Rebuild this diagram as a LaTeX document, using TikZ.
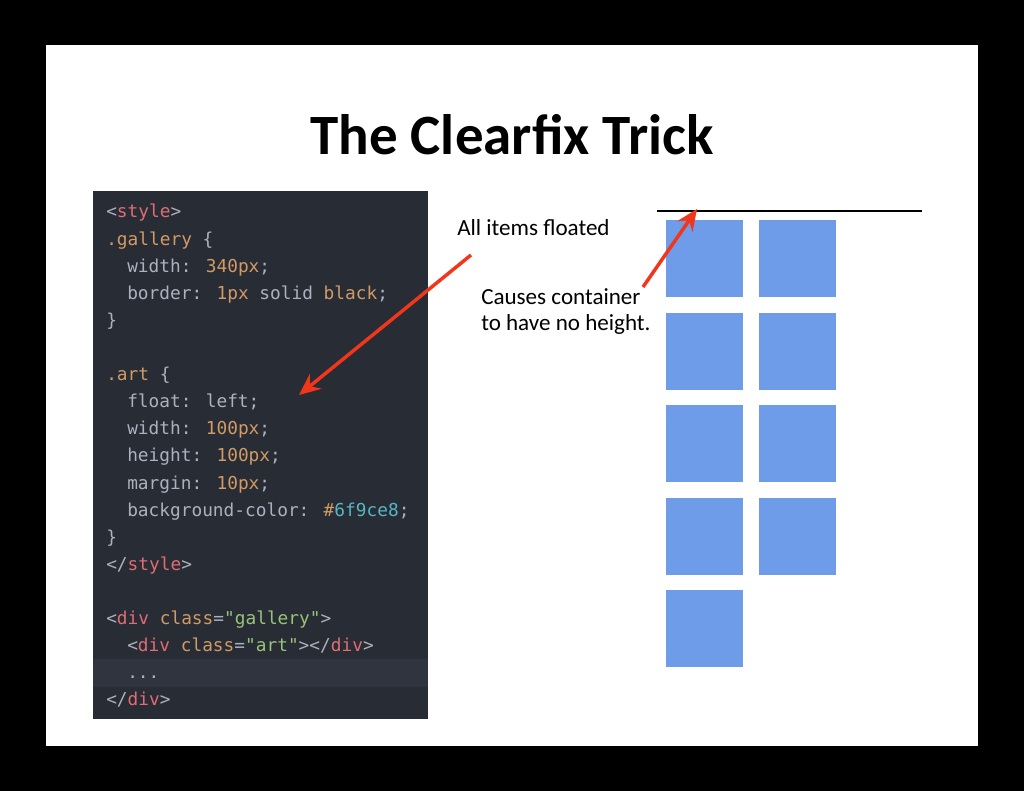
\documentclass[tikz,border=0pt]{standalone}
\usepackage{fontspec}
\setmainfont{Carlito}
\newfontfamily\codefont{DejaVu Sans Mono}
\usepackage{tikz}
\usetikzlibrary{arrows.meta}

\definecolor{editorbg}{HTML}{282C34}
\definecolor{editorhl}{HTML}{2F343F}
\definecolor{codegrey}{HTML}{ABB2BF}
\definecolor{codered}{HTML}{E06C75}
\definecolor{codeorange}{HTML}{D19A66}
\definecolor{codegreen}{HTML}{98C379}
\definecolor{codecyan}{HTML}{56B6C2}
\definecolor{artblue}{HTML}{6F9CE8}
\definecolor{arrowred}{HTML}{F2361C}

\newcommand{\tagc}[1]{\textcolor{codered}{#1}}
\newcommand{\valc}[1]{\textcolor{codeorange}{#1}}
\newcommand{\strc}[1]{\textcolor{codegreen}{#1}}
\newcommand{\hexc}[1]{\textcolor{codecyan}{#1}}

\tikzset{
  codeline/.style={anchor=base west, inner sep=0pt, text=codegrey,
    font=\codefont\fontsize{13.35}{15}\selectfont},
  artbox/.style={fill=artblue, minimum size=57.75pt, inner sep=0pt, anchor=north west},
  note/.style={anchor=base west, inner sep=0pt, font=\fontsize{17.3}{19.5}\selectfont},
  pointer/.style={->, draw=arrowred, line width=2.6pt},
}

\begin{document}
\begin{tikzpicture}[x=0.75pt, y=-0.75pt, >={Stealth[length=16pt,width=14pt,inset=5.5pt]}]
  \useasboundingbox[fill=black] (0,0) rectangle (1024,791);
  \fill[white] (46,45) rectangle (978,746);
  \node[anchor=base, inner sep=0pt, font=\bfseries\fontsize{42.75}{50}\selectfont] (title) at (512,155) {The Clearfix Trick};
  % code panel
  \fill[editorbg] (93,191) rectangle (428,719);
  \fill[editorhl] (93,659) rectangle (428,687);
  \node[codeline] (l0) at (106,218) {<\tagc{style}>};
  \node[codeline] (l1) at (106,245.1) {\valc{.gallery} \{};
  \node[codeline] (l2) at (127,272.2) {width: \valc{340px};};
  \node[codeline] (l3) at (127,299.3) {border: \valc{1px} solid \valc{black};};
  \node[codeline] (l4) at (106,326.4) {\}};
  \node[codeline] (l6) at (106,380.6) {\valc{.art} \{};
  \node[codeline] (l7) at (127,407.7) {float: left;};
  \node[codeline] (l8) at (127,434.8) {width: \valc{100px};};
  \node[codeline] (l9) at (127,461.9) {height: \valc{100px};};
  \node[codeline] (l10) at (127,489) {margin: \valc{10px};};
  \node[codeline] (l11) at (127,516.1) {background-color: \valc{\#}\hexc{6f9ce8};};
  \node[codeline] (l12) at (106,543.2) {\}};
  \node[codeline] (l13) at (106,570.3) {</\tagc{style}>};
  \node[codeline] (l15) at (106,624.5) {<\tagc{div} \valc{class}=\strc{"gallery"}>};
  \node[codeline] (l16) at (127,651.6) {<\tagc{div} \valc{class}=\strc{"art"}></\tagc{div}>};
  \node[codeline] (l17) at (127,678.7) {...};
  \node[codeline] (l18) at (106,705.8) {</\tagc{div}>};
  % floated boxes
  \foreach \r in {0,...,3}
    \foreach \c in {0,1}
      \node[artbox] (art-\r-\c) at ({666+93*\c},{220+92.5*\r}) {};
  \node[artbox] (art-4-0) at (666,590) {};
  \coordinate (rule-l) at (657,211);
  \coordinate (rule-r) at (922,211);
  \draw[line width=1.1pt] (rule-l) -- (rule-r);
  % notes
  \node[note] (floated) at (457,236) {All items floated};
  \node[note, align=left] (cause) at (481,331) {Causes container\\to have no height.};
  \coordinate (floated-tail) at (471,255);
  \coordinate (art-rule) at (299,395);
  \draw[pointer] (floated-tail) -- (art-rule);
  \coordinate (cause-tail) at (643,287);
  \coordinate (rule-hit) at (697,209);
  \draw[pointer] (cause-tail) -- (rule-hit);
\end{tikzpicture}
\end{document}
